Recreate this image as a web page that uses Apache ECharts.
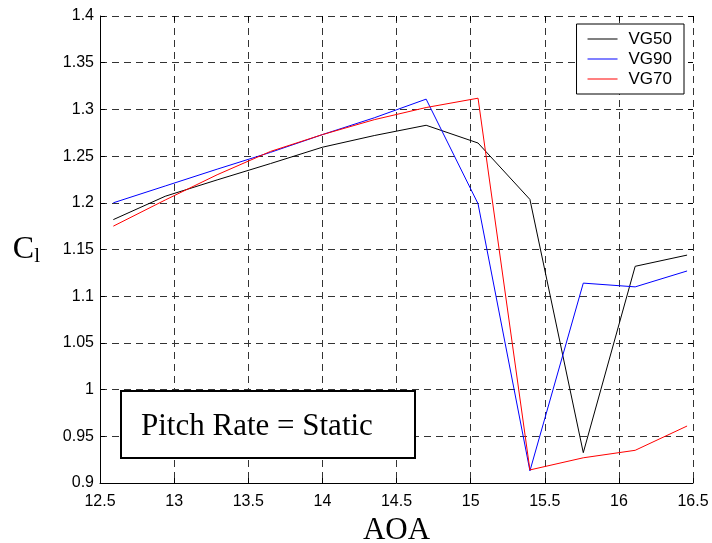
<!DOCTYPE html>
<html>
<head>
<meta charset="utf-8">
<script src="https://cdn.jsdelivr.net/npm/echarts@6/dist/echarts.min.js"></script>
<style>
html,body{margin:0;padding:0;background:#fff;}
#chart{width:712px;height:543px;}
</style>
</head>
<body>
<div id="chart"></div>
<script>
var aoa = [12.59, 12.94, 13.29, 13.65, 14.00, 14.35, 14.70, 15.05, 15.40, 15.76, 16.11, 16.46];
var vg50 = [1.182, 1.207, 1.2245, 1.242, 1.2595, 1.272, 1.283, 1.264, 1.2036, 0.9325, 1.132, 1.144];
var vg90 = [1.200, 1.218, 1.236, 1.254, 1.273, 1.291, 1.311, 1.199, 0.913, 1.114, 1.110, 1.127];
var vg70 = [1.175, 1.203, 1.230, 1.255, 1.273, 1.289, 1.302, 1.312, 0.914, 0.927, 0.935, 0.961];
var seriesNames = ['VG50', 'VG90', 'VG70'];
var seriesColors = ['#000000', '#0000ff', '#ff0000'];
var annotation = 'Pitch Rate = Static';

function pairs(ys) { return aoa.map(function (x, i) { return [x, ys[i]]; }); }

var chart = echarts.init(document.getElementById('chart'), null, {renderer: 'canvas'});
var gridLine = {show: true, lineStyle: {color: '#333', type: [7, 5], width: 1}};
var tickStyle = {show: true, inside: true, length: 5, lineStyle: {color: '#000'}};
var labelFont = {fontFamily: 'Arial, "Liberation Sans", sans-serif', fontSize: 16, color: '#000'};

chart.setOption({
  animation: false,
  backgroundColor: '#fff',
  grid: {left: 100, right: 19, top: 16, bottom: 60, containLabel: false, outerBoundsMode: 'none'},
  legend: {
    data: seriesNames,
    orient: 'vertical',
    right: 28, top: 24,
    backgroundColor: '#fff',
    borderColor: '#000', borderWidth: 1,
    padding: [6, 12, 6, 11],
    itemWidth: 30, itemHeight: 1, itemGap: 2,
    icon: 'rect',
    textStyle: {fontFamily: 'Arial, "Liberation Sans", sans-serif', fontSize: 17, color: '#000', lineHeight: 18, padding: [0, 0, 0, 6]}
  },
  xAxis: [{
    type: 'value', min: 12.5, max: 16.5, interval: 0.5,
    axisLine: {show: true, lineStyle: {color: '#000'}},
    axisTick: tickStyle,
    axisLabel: Object.assign({margin: 11}, labelFont),
    splitLine: gridLine,
    name: 'AOA', nameLocation: 'middle', nameGap: 24,
    nameTextStyle: {fontFamily: '"Liberation Serif", "Times New Roman", serif', fontSize: 31, color: '#000'}
  }, {
    type: 'value', position: 'top', min: 12.5, max: 16.5, interval: 0.5,
    axisLine: {show: false}, axisTick: tickStyle, axisLabel: {show: false}, splitLine: {show: false}
  }],
  yAxis: [{
    type: 'value', min: 0.9, max: 1.4, interval: 0.05,
    axisLine: {show: true, lineStyle: {color: '#000'}},
    axisTick: tickStyle,
    axisLabel: Object.assign({margin: 6}, labelFont),
    splitLine: gridLine,
    name: '{c|C}{s|l}', nameLocation: 'middle', nameRotate: 0, nameGap: 60,
    nameTextStyle: {
      align: 'right', verticalAlign: 'middle',
      rich: {
        c: {fontFamily: '"Liberation Serif", "Times New Roman", serif', fontSize: 32, color: '#000'},
        s: {fontFamily: '"Liberation Serif", "Times New Roman", serif', fontSize: 21, color: '#000', verticalAlign: 'bottom', padding: [14, 0, 0, 0]}
      }
    }
  }, {
    type: 'value', position: 'right', min: 0.9, max: 1.4, interval: 0.05,
    axisLine: {show: false}, axisTick: tickStyle, axisLabel: {show: false}, splitLine: {show: false}
  }],
  series: seriesNames.map(function (n, i) {
    return {
      name: n, type: 'line', symbol: 'none',
      data: pairs([vg50, vg90, vg70][i]),
      lineStyle: {color: seriesColors[i], width: 1},
      itemStyle: {color: seriesColors[i]}
    };
  }),
  graphic: [{
    type: 'group', left: 120, top: 390, z: 100,
    children: [{
      type: 'rect', shape: {x: 0, y: 0, width: 294, height: 67}, z: 100,
      style: {fill: '#fff', stroke: '#000', lineWidth: 2}
    }, {
      type: 'text', x: 20, y: 36, z: 101,
      style: {text: annotation, fontFamily: '"Liberation Serif", "Times New Roman", serif', fontSize: 31, fill: '#000', verticalAlign: 'middle', align: 'left'}
    }]
  }]
});
</script>
</body>
</html>
